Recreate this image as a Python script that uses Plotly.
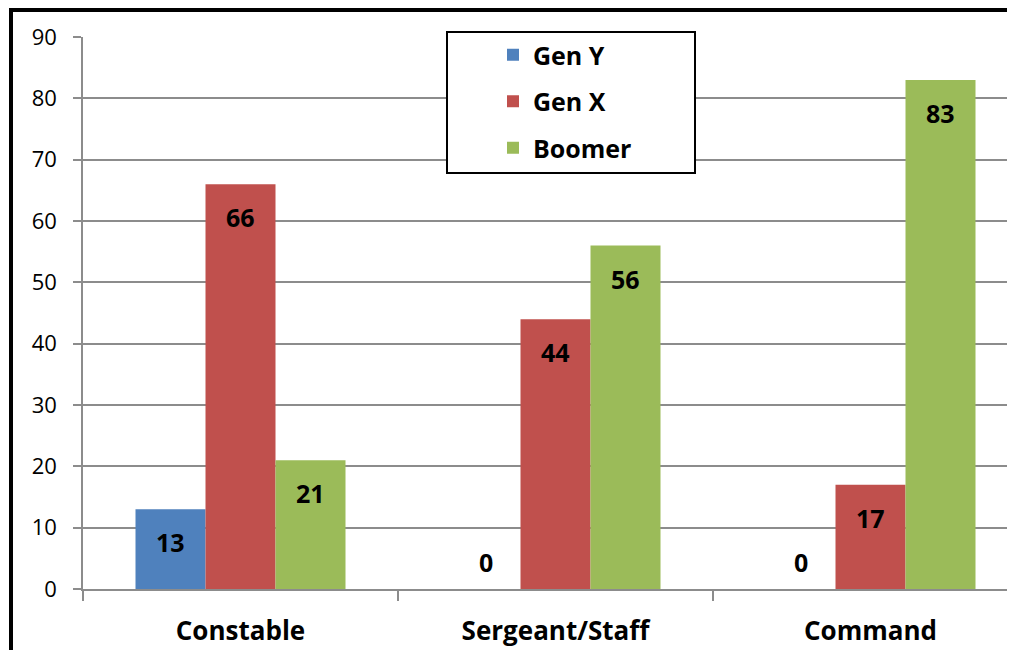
import plotly.graph_objects as go

categories = ["Constable", "Sergeant/Staff", "Command"]
series_names = ["Gen Y", "Gen X", "Boomer"]
gen_y = [13, 0, 0]
gen_x = [66, 44, 17]
boomer = [21, 56, 83]
y_ticks = [0, 10, 20, 30, 40, 50, 60, 70, 80, 90]

colors = ["#4F81BD", "#C0504D", "#9BBB59"]
series_values = [gen_y, gen_x, boomer]

OFF = 8  # page body margin
W, H = 1015 - OFF, 650 - OFF
ML, MT, MB = 83 - OFF, 37 - OFF, 61
PW = W - ML
PH = H - MT - MB
CAT_PX = 315
FONT = "'Open Sans', 'Liberation Sans', sans-serif"

fig = go.Figure()
for i, (name, vals) in enumerate(zip(series_names, series_values)):
    fig.add_trace(go.Bar(
        x=categories, y=vals, name=name,
        marker=dict(color=colors[i], line=dict(width=0)),
        legendgroup=name,
    ))

# data labels via annotations
bar_px = CAT_PX * (2 / 3) / 3
for i, vals in enumerate(series_values):
    for c, v in zip(categories, vals):
        fig.add_annotation(
            x=c, y=v, xref="x", yref="y",
            text=f"<b>{v}</b>", showarrow=False,
            xshift=(i - 1) * bar_px,
            yshift=(27 if v == 0 else -33),
            font=dict(family=FONT, size=25, color="black"),
        )

def px_to_paper_x(px):
    return (px - OFF - ML) / PW

def px_to_paper_y(py):
    return (H - MB - (py - OFF)) / PH

# outer frame
fig.add_shape(type="rect", xref="paper", yref="paper",
              x0=px_to_paper_x(11), x1=px_to_paper_x(1040),
              y0=px_to_paper_y(680), y1=px_to_paper_y(10),
              line=dict(color="black", width=4), fillcolor="rgba(0,0,0,0)",
              layer="above")
# legend box
fig.add_shape(type="rect", xref="paper", yref="paper",
              x0=px_to_paper_x(447), x1=px_to_paper_x(695),
              y0=px_to_paper_y(173), y1=px_to_paper_y(32),
              line=dict(color="black", width=2), fillcolor="white",
              layer="above")

fig.update_layout(
    width=W, height=H,
    margin=dict(l=ML, r=0, t=MT, b=MB, pad=0),
    paper_bgcolor="white", plot_bgcolor="white",
    barmode="group", bargap=1 / 3, bargroupgap=0,
    font=dict(family=FONT, color="black"),
    showlegend=True,
    legend=dict(
        x=px_to_paper_x(493), xanchor="left",
        y=px_to_paper_y(32), yanchor="top",
        bgcolor="rgba(0,0,0,0)", borderwidth=0,
        font=dict(family=FONT, size=25, color="black", weight="bold"),
        traceorder="grouped", tracegroupgap=11,
    ),
    xaxis=dict(
        range=[-0.5, -0.5 + PW / CAT_PX],
        showgrid=False, showline=True, linecolor="#8c8c8c", linewidth=1.5,
        ticks="outside", ticklen=10, tickcolor="#8c8c8c", tickwidth=1.5,
        tickson="boundaries",
        tickfont=dict(family=FONT, size=26, color="black", weight="bold"),
        ticklabelstandoff=18,
    ),
    yaxis=dict(
        range=[0, 90], tickvals=y_ticks,
        showgrid=True, gridcolor="#8c8c8c", gridwidth=1.5,
        showline=True, linecolor="#8c8c8c", linewidth=1.5,
        ticks="outside", ticklen=8, tickcolor="#8c8c8c", tickwidth=1.5,
        zeroline=False,
        tickfont=dict(family=FONT, size=22, color="black"),
        ticklabelstandoff=12,
    ),
)

fig.write_html("out.html")
